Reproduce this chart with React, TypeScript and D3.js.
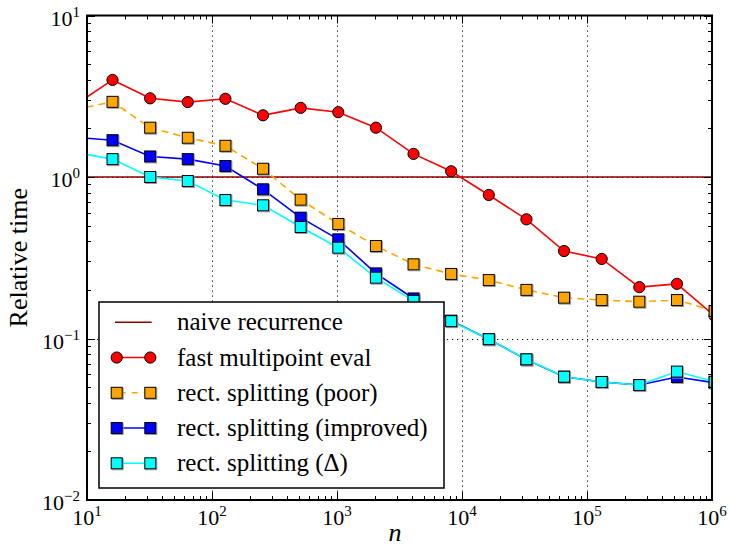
import React from 'react';
import * as d3 from 'd3';

const nValues = [8, 16, 32, 64, 128, 256, 512, 1024, 2048, 4096, 8192, 16384, 32768, 65536, 131072, 262144, 524288, 1048576];
const naiveRecurrence = [1, 1];
const naiveN = [1, 1e7];
const fastMultipoint = [2.79, 3.99, 3.07, 2.91, 3.05, 2.41, 2.68, 2.52, 2.02, 1.39, 1.085, 0.774, 0.547, 0.348, 0.311, 0.208, 0.218, 0.138];
const rectPoor = [2.62, 2.92, 2.02, 1.75, 1.56, 1.125, 0.724, 0.512, 0.374, 0.288, 0.251, 0.23, 0.2, 0.179, 0.173, 0.169, 0.173, 0.148];
const rectImproved = [1.76, 1.69, 1.34, 1.29, 1.17, 0.839, 0.56, 0.411, 0.253, 0.177, 0.129, 0.099, 0.074, 0.058, 0.0538, 0.0515, 0.0578, 0.0532];
const rectDelta = [1.42, 1.29, 1.0, 0.944, 0.72, 0.668, 0.49, 0.365, 0.238, 0.171, 0.128, 0.099, 0.0743, 0.058, 0.0538, 0.0515, 0.0624, 0.054];

const legendLabels = ['naive recurrence', 'fast multipoint eval', 'rect. splitting (poor)', 'rect. splitting (improved)', 'rect. splitting (Δ)'];
const xTickExps = [1, 2, 3, 4, 5, 6];
const yTickExps = [-2, -1, 0, 1];

const W = 729, H = 546;
const L = 87, R = 712, T = 15.5, B = 500;
const FONT = 'Liberation Serif';
const CSS = `.serif, .serif tspan { font-family: "Liberation Serif", "Tinos", serif !important; }`;

type Series = { values: number[]; color: string; marker: 'circle' | 'square'; dash?: string };
const series: Series[] = [
  { values: fastMultipoint, color: '#ff0000', marker: 'circle' },
  { values: rectPoor, color: '#ffa500', marker: 'square', dash: '7,5' },
  { values: rectImproved, color: '#0000ff', marker: 'square' },
  { values: rectDelta, color: '#00ffff', marker: 'square' },
];

function Marker({ kind, cx, cy, color }: { kind: string; cx: number; cy: number; color: string }) {
  if (kind === 'circle') {
    return <circle cx={cx} cy={cy} r={5.6} fill={color} stroke="#000" strokeWidth={1} />;
  }
  const s = 11;
  return (
    <g>
      <rect x={cx - s / 2 + 1} y={cy - s / 2 + 1} width={s} height={s} fill="none" stroke="#999" strokeWidth={1} />
      <rect x={cx - s / 2} y={cy - s / 2} width={s} height={s} fill={color} stroke="#000" strokeWidth={1} />
    </g>
  );
}

function Pow({ x, y, exp, anchor }: { x: number; y: number; exp: number; anchor: 'middle' | 'end' }) {
  const e = exp < 0 ? '\u2212' + Math.abs(exp) : String(exp);
  return (
    <text className="serif" x={x} y={y} textAnchor={anchor} fontSize={22} fontFamily={FONT} style={{ fontFamily: FONT }} fill="#000">
      10<tspan dy={-9} fontSize={15}>{e}</tspan>
    </text>
  );
}

export default function App() {
  const x = d3.scaleLog().domain([10, 1e6]).range([L, R]);
  const y = d3.scaleLog().domain([1e-2, 10]).range([B, T]);
  const isMajor = (t: number) => Math.abs(Math.log10(t) - Math.round(Math.log10(t))) < 1e-9;
  const xTicks = x.ticks();
  const yTicks = y.ticks();
  const line = d3.line<[number, number]>().x(d => x(d[0])).y(d => y(d[1]));

  const gridX = [1e2, 1e3, 1e4, 1e5];
  const gridY = [1e-1, 1e0];

  const legX = 99, legY = 302, legW = 345, legH = 186;
  const rowY0 = 322.3, rowStep = 35.25;
  const hx1 = 116.7, hx2 = 150.3;

  return (
    <svg width={W} height={H} fontFamily={FONT} style={{ position: 'absolute', left: 0, top: 0, background: '#fff' }}>
      <style>{CSS}</style>
      <defs>
        <clipPath id="plot">
          <rect x={L} y={T} width={R - L} height={B - T} />
        </clipPath>
      </defs>
      <rect x={0} y={0} width={W} height={H} fill="#fff" />
      {/* grid */}
      <g stroke="#000" strokeWidth={1} strokeDasharray="1.2,3.8">
        {gridX.map(g => <line key={'gx' + g} x1={Math.round(x(g)) + 0.5} x2={Math.round(x(g)) + 0.5} y1={T} y2={B} />)}
        {gridY.map(g => <line key={'gy' + g} x1={L} x2={R} y1={Math.round(y(g)) + 0.5} y2={Math.round(y(g)) + 0.5} />)}
      </g>
      <g clipPath="url(#plot)">
        <path d={line(naiveN.map((n, i) => [n, naiveRecurrence[i]]) as [number, number][]) || ''} stroke="#8b0000" strokeWidth={1.6} fill="none" />
        {series.map((s, si) => {
          const pts = nValues.map((n, i) => [n, s.values[i]] as [number, number]);
          return (
            <g key={si}>
              <path d={line(pts) || ''} stroke={s.color} strokeWidth={1.6} fill="none" strokeDasharray={s.dash} />
              {pts.map((p, i) => <Marker key={i} kind={s.marker} cx={x(p[0])} cy={y(p[1])} color={s.color} />)}
            </g>
          );
        })}
      </g>
      {/* ticks */}
      <g stroke="#000" strokeWidth={1}>
        {xTicks.map((t, i) => {
          const len = isMajor(t) ? 8 : 4;
          const px = Math.round(x(t)) + 0.5;
          return (
            <g key={'xt' + i}>
              <line x1={px} x2={px} y1={B} y2={B - len} />
              <line x1={px} x2={px} y1={T} y2={T + len} />
            </g>
          );
        })}
        {yTicks.map((t, i) => {
          const len = isMajor(t) ? 8 : 4;
          const py = Math.round(y(t)) + 0.5;
          return (
            <g key={'yt' + i}>
              <line x1={L} x2={L + len} y1={py} y2={py} />
              <line x1={R} x2={R - len} y1={py} y2={py} />
            </g>
          );
        })}
      </g>
      <rect x={L} y={T} width={R - L} height={B - T} fill="none" stroke="#000" strokeWidth={2} />
      {/* tick labels */}
      {xTickExps.map(e => <Pow key={'xl' + e} x={x(Math.pow(10, e))} y={525} exp={e} anchor="middle" />)}
      {yTickExps.map(e => <Pow key={'yl' + e} x={80} y={y(Math.pow(10, e)) + 10} exp={e} anchor="end" />)}
      {/* axis labels */}
      <text className="serif" x={395} y={541} textAnchor="middle" fontSize={26} fontStyle="italic" fontFamily={FONT} style={{ fontFamily: FONT }}>n</text>
      <text className="serif" transform={`translate(27,${(T + B) / 2}) rotate(-90)`} textAnchor="middle" fontSize={26} fontFamily={FONT} style={{ fontFamily: FONT }}>Relative time</text>
      {/* legend */}
      <rect x={legX} y={legY} width={legW} height={legH} fill="#fff" stroke="#000" strokeWidth={1.5} />
      {legendLabels.map((lab, i) => {
        const cy = rowY0 + i * rowStep;
        let handle: React.ReactNode = null;
        if (i === 0) {
          handle = <line x1={115} x2={151.7} y1={cy} y2={cy} stroke="#8b0000" strokeWidth={1.6} />;
        } else {
          const s = series[i - 1];
          handle = (
            <g>
              <line x1={hx1} x2={hx2} y1={cy} y2={cy} stroke={s.color} strokeWidth={1.6} strokeDasharray={s.dash ? '6,6' : undefined} strokeDashoffset={s.dash ? -3 : 0} />
              <Marker kind={s.marker} cx={hx1} cy={cy} color={s.color} />
              <Marker kind={s.marker} cx={hx2} cy={cy} color={s.color} />
            </g>
          );
        }
        return (
          <g key={'lg' + i}>
            {handle}
            <text className="serif" x={177} y={cy + 8} fontSize={25} fontFamily={FONT} style={{ fontFamily: FONT }} fill="#000">{lab}</text>
          </g>
        );
      })}
    </svg>
  );
}
